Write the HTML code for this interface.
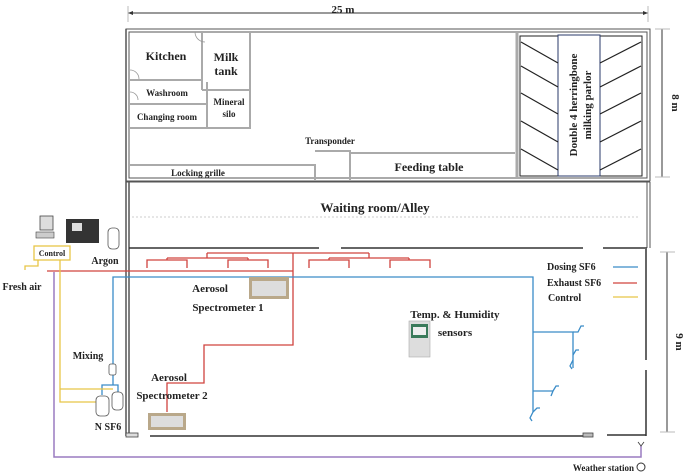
<!DOCTYPE html>
<html><head><meta charset="utf-8"><style>
body{margin:0;background:#fff}
svg{display:block}
text{font-family:"Liberation Serif",serif;font-weight:bold;fill:#222}
</style></head><body>
<svg width="685" height="476" viewBox="0 0 685 476" xmlns="http://www.w3.org/2000/svg">
<!-- dimension 25m -->
<line x1="128" y1="13" x2="648" y2="13" stroke="#333" stroke-width="1"/>
<path d="M128 13l5-2v4zM648 13l-5-2v4z" fill="#333"/>
<line x1="128" y1="6" x2="128" y2="22" stroke="#bbb"/><line x1="648" y1="6" x2="648" y2="22" stroke="#bbb"/>
<text x="343" y="13" font-size="11" text-anchor="middle">25 m</text>
<!-- 8 m -->
<line x1="662" y1="29" x2="662" y2="177" stroke="#333"/>
<line x1="655" y1="29" x2="670" y2="29" stroke="#bbb"/><line x1="655" y1="177" x2="670" y2="177" stroke="#bbb"/>
<text x="0" y="0" font-size="11" transform="translate(672,103) rotate(90)" text-anchor="middle">8 m</text>
<!-- 9 m -->
<line x1="667" y1="252" x2="667" y2="432" stroke="#333"/>
<line x1="660" y1="252" x2="675" y2="252" stroke="#bbb"/><line x1="660" y1="432" x2="675" y2="432" stroke="#bbb"/>
<text x="0" y="0" font-size="11" transform="translate(676,342) rotate(90)" text-anchor="middle">9 m</text>

<!-- outer walls upper -->
<g fill="none" stroke="#555" stroke-width="1">
<rect x="126" y="29" width="524" height="152"/>
<rect x="129" y="32" width="518" height="146"/>
<line x1="126" y1="182" x2="650" y2="182"/>
<line x1="650" y1="182" x2="650" y2="248"/><line x1="647" y1="182" x2="647" y2="248"/>
<line x1="126" y1="29" x2="126" y2="436" stroke-width="1.5"/>
<line x1="129" y1="182" x2="129" y2="436" stroke-width="1.5"/>
</g>
<!-- rooms -->
<g fill="none" stroke="#aaa" stroke-width="2">
<path d="M130 80H202M202 32V90M250 32V128H130M130 104H207M207 82V128M202 90H250"/>
<path d="M130 165H315V180M315 151H350V180M350 153H515"/>
<line x1="517" y1="32" x2="517" y2="178" stroke-width="3"/>
</g>
<g fill="none" stroke="#999" stroke-width="0.8">
<path d="M195 32a10 10 0 0 0 10 10M130 70a9 9 0 0 1 9 9M130 92a8 8 0 0 1 8 8"/>
</g>
<text x="166" y="60" font-size="12" text-anchor="middle">Kitchen</text>
<text x="226" y="61" font-size="12" text-anchor="middle">Milk</text>
<text x="226" y="75" font-size="12" text-anchor="middle">tank</text>
<text x="167" y="96" font-size="9" text-anchor="middle">Washroom</text>
<text x="167" y="120" font-size="9" text-anchor="middle">Changing room</text>
<text x="229" y="105" font-size="9" text-anchor="middle">Mineral</text>
<text x="229" y="117" font-size="9" text-anchor="middle">silo</text>
<text x="330" y="144" font-size="9" text-anchor="middle">Transponder</text>
<text x="198" y="176" font-size="9" text-anchor="middle">Locking grille</text>
<text x="429" y="171" font-size="12" text-anchor="middle">Feeding table</text>
<!-- parlor -->
<rect x="520" y="36" width="122" height="140" fill="none" stroke="#222" stroke-width="1"/>
<rect x="558" y="35" width="42" height="141" fill="#fff" stroke="#2a3a6a" stroke-width="1"/>
<g stroke="#222" stroke-width="1.2" fill="none">
<path d="M521 42L558 63M521 66L558 87M521 93L558 114M521 121L558 142M521 149L558 170"/>
<path d="M641 42L600 63M641 66L600 87M641 93L600 114M641 121L600 142M641 149L600 170"/>
</g>
<text x="0" y="0" font-size="11" transform="translate(577,105) rotate(-90)" text-anchor="middle">Double 4 herringbone</text>
<text x="0" y="0" font-size="11" transform="translate(591,105) rotate(-90)" text-anchor="middle">milking parlor</text>

<!-- waiting room -->
<text x="375" y="212" font-size="13" text-anchor="middle">Waiting room/Alley</text>
<line x1="132" y1="217" x2="640" y2="217" stroke="#ccc" stroke-dasharray="2 2"/>
<g stroke="#333" stroke-width="1.5" fill="none">
<path d="M129 248H319M341 248H583M603 248H647"/>
<path d="M646 249V360M646 370V436M607 435H646M150 436H590"/>
</g>
<rect x="126" y="433" width="12" height="4" fill="#ddd" stroke="#444" stroke-width="0.8"/>
<rect x="583" y="433" width="10" height="4" fill="#bbb" stroke="#444" stroke-width="0.8"/>

<!-- purple -->
<path d="M54 272V457H641V446" fill="none" stroke="#9a7cc0" stroke-width="1.5"/>
<path d="M638 442l3 4 3-4" fill="none" stroke="#333" stroke-width="0.8"/>
<circle cx="641" cy="467" r="4" fill="#fff" stroke="#333"/>
<text x="634" y="471" font-size="9" text-anchor="end">Weather station</text>

<!-- red -->
<g fill="none" stroke="#d0433f" stroke-width="1.3">
<path d="M47 271H293M293 253V345H204V383H167V412"/>
<path d="M207 253H369M207 253V258M369 253V258M167 258H248M329 258H409M167 258V260M248 258V260M329 258V260M409 258V260"/>
<path d="M147 268V260H187V268M228 268V260H268V268M309 268V260H349V268M390 268V260H430V268"/>
</g>
<!-- blue -->
<g fill="none" stroke="#3a8cc8" stroke-width="1.3">
<path d="M113 365V277H533V412M533 332H573V368M533 391H553"/>
<path d="M573 332h5l3-6h3M573 360l-3 6 2 3M573 355l3-5h3M553 391l3-5h3M553 391l-2 5M533 412l-3 6 2 3M533 412l4-4h3"/>
<path d="M113 373V385H102V395M113 373V385H118V393"/>
</g>
<rect x="109" y="364" width="7" height="11" rx="2" fill="#fff" stroke="#555" stroke-width="0.8"/>
<!-- yellow -->
<g fill="none" stroke="#e8c547" stroke-width="1.3">
<rect x="34" y="246" width="36" height="14"/>
<path d="M25 270V266H38V260M60 260V402H96M60 389H113"/>
</g>
<text x="52" y="256" font-size="8" text-anchor="middle">Control</text>
<text x="22" y="290" font-size="10" text-anchor="middle">Fresh air</text>
<text x="105" y="264" font-size="10" text-anchor="middle">Argon</text>
<text x="88" y="359" font-size="10" text-anchor="middle">Mixing</text>
<text x="108" y="430" font-size="10" text-anchor="middle">N  SF6</text>
<!-- cylinders -->
<g fill="#fff" stroke="#555" stroke-width="0.8">
<rect x="108" y="228" width="11" height="21" rx="4"/>
<rect x="96" y="396" width="13" height="20" rx="4"/>
<rect x="112" y="392" width="11" height="18" rx="4"/>
</g>
<!-- computer -->
<rect x="40" y="216" width="13" height="14" fill="#ddd" stroke="#444" stroke-width="0.8"/>
<rect x="36" y="232" width="18" height="6" fill="#ccc" stroke="#444" stroke-width="0.6"/>
<rect x="66" y="219" width="33" height="24" fill="#333"/>
<rect x="72" y="223" width="10" height="8" fill="#ddd"/>
<!-- spectrometers -->
<rect x="249" y="277" width="40" height="22" fill="#b9a88a"/>
<rect x="252" y="281" width="34" height="15" fill="#ddd"/>
<rect x="148" y="413" width="38" height="17" fill="#b9a88a"/>
<rect x="151" y="416" width="32" height="11" fill="#ddd"/>
<text x="228" y="292" font-size="11" text-anchor="end">Aerosol</text>
<text x="228" y="311" font-size="11" text-anchor="middle">Spectrometer 1</text>
<text x="169" y="381" font-size="11" text-anchor="middle">Aerosol</text>
<text x="172" y="399" font-size="11" text-anchor="middle">Spectrometer 2</text>
<!-- sensor -->
<rect x="409" y="321" width="21" height="36" fill="#ddd" stroke="#aaa" stroke-width="0.6"/>
<rect x="411" y="324" width="17" height="14" fill="#3a7a5a"/>
<rect x="413" y="327" width="13" height="8" fill="#eee"/>
<text x="455" y="318" font-size="11" text-anchor="middle">Temp. &amp; Humidity</text>
<text x="455" y="336" font-size="11" text-anchor="middle">sensors</text>
<!-- legend -->
<text x="547" y="270" font-size="10">Dosing SF6</text>
<text x="547" y="286" font-size="10">Exhaust SF6</text>
<text x="548" y="301" font-size="10">Control</text>
<line x1="613" y1="267" x2="638" y2="267" stroke="#3a8cc8" stroke-width="1.3"/>
<line x1="613" y1="283" x2="637" y2="283" stroke="#d0433f" stroke-width="1.3"/>
<line x1="613" y1="297" x2="638" y2="297" stroke="#e8c547" stroke-width="1.3"/>
</svg>
</body></html>
